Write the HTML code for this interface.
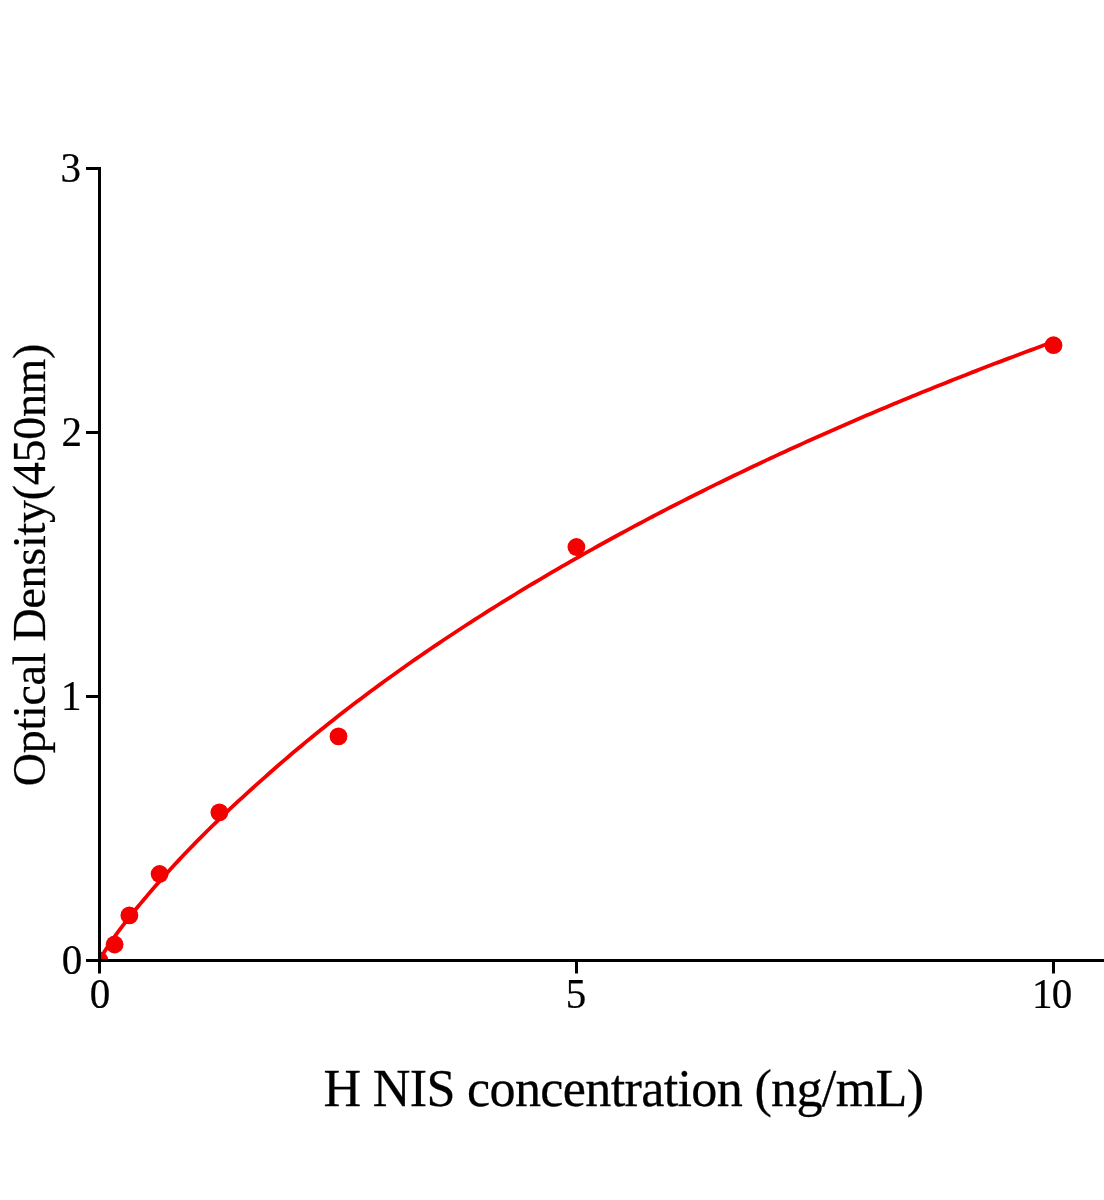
<!DOCTYPE html>
<html><head><meta charset="utf-8"><title>H NIS ELISA standard curve</title>
<style>
html,body{margin:0;padding:0;background:#fff;}
body{width:1104px;height:1200px;overflow:hidden;position:relative;font-family:"Liberation Serif",serif;}
svg{position:absolute;left:0;top:0;display:block;will-change:transform;}
text{font-family:"Liberation Serif",serif;fill:#000;stroke:#000;stroke-width:0.25px;}
</style></head><body>
<svg width="1104" height="1200" viewBox="0 0 1104 1200">
<rect width="1104" height="1200" fill="#fff"/>
<defs><clipPath id="plot"><rect x="99.5" y="0" width="1010" height="960.5"/></clipPath></defs>
<g clip-path="url(#plot)">
<path d="M99.50 960.90 L100.72 958.21 L101.95 955.96 L103.17 953.85 L104.39 951.82 L105.62 949.87 L106.84 947.96 L108.06 946.10 L109.28 944.27 L110.51 942.47 L111.73 940.70 L112.95 938.96 L114.18 937.24 L115.40 935.54 L116.62 933.86 L117.85 932.19 L119.07 930.55 L120.29 928.91 L121.52 927.29 L122.74 925.69 L123.96 924.09 L125.18 922.51 L126.41 920.94 L127.63 919.38 L128.85 917.84 L130.08 916.30 L131.30 914.78 L132.52 913.26 L133.75 911.75 L134.97 910.26 L136.19 908.77 L137.42 907.29 L138.64 905.82 L139.86 904.36 L141.08 902.90 L142.31 901.46 L143.53 900.02 L144.75 898.56 L145.98 897.10 L147.20 895.65 L151.75 890.30 L156.31 885.04 L160.86 879.87 L165.42 874.77 L169.97 869.74 L174.53 864.78 L179.08 859.89 L183.63 855.05 L188.19 850.28 L192.74 845.57 L197.30 840.90 L201.85 836.30 L206.41 831.76 L210.96 827.26 L215.51 822.82 L220.07 818.41 L224.62 814.06 L229.18 809.74 L233.73 805.47 L238.29 801.23 L242.84 797.04 L247.39 792.88 L251.95 788.76 L256.50 784.68 L261.06 780.62 L265.61 776.55 L270.17 772.52 L274.72 768.51 L279.27 764.55 L283.83 760.61 L288.38 756.70 L292.94 752.82 L297.49 748.98 L302.05 745.17 L306.60 741.41 L311.15 737.68 L315.71 733.98 L320.26 730.30 L324.82 726.66 L329.37 723.03 L333.93 719.44 L338.48 715.86 L343.03 712.32 L347.59 708.79 L352.14 705.30 L356.70 701.84 L361.25 698.39 L365.81 694.98 L370.36 691.58 L374.91 688.21 L379.47 684.86 L384.02 681.53 L388.58 678.22 L393.13 674.93 L397.68 671.67 L402.24 668.43 L406.79 665.22 L411.35 662.04 L415.90 658.87 L420.46 655.72 L425.01 652.60 L429.56 649.49 L434.12 646.40 L438.67 643.33 L443.23 640.27 L447.78 637.24 L452.34 634.22 L456.89 631.22 L461.44 628.24 L466.00 625.27 L470.55 622.33 L475.11 619.40 L479.66 616.48 L484.22 613.58 L488.77 610.70 L493.32 607.84 L497.88 604.99 L502.43 602.15 L506.99 599.34 L511.54 596.53 L516.10 593.75 L520.65 590.98 L525.20 588.22 L529.76 585.48 L534.31 582.75 L538.87 580.04 L543.42 577.34 L547.98 574.65 L552.53 571.98 L557.08 569.32 L561.64 566.68 L566.19 564.05 L570.75 561.44 L575.30 558.83 L579.86 556.25 L584.41 553.67 L588.96 551.11 L593.52 548.56 L598.07 546.02 L602.63 543.49 L607.18 540.98 L611.74 538.48 L616.29 535.99 L620.84 533.52 L625.40 531.06 L629.95 528.60 L634.51 526.17 L639.06 523.74 L643.62 521.32 L648.17 518.92 L652.72 516.52 L657.28 514.14 L661.83 511.77 L666.39 509.41 L670.94 507.06 L675.50 504.73 L680.05 502.40 L684.60 500.08 L689.16 497.78 L693.71 495.49 L698.27 493.20 L702.82 490.93 L707.38 488.66 L711.93 486.41 L716.48 484.17 L721.04 481.94 L725.59 479.71 L730.15 477.50 L734.70 475.30 L739.26 473.11 L743.81 470.92 L748.36 468.75 L752.92 466.58 L757.47 464.43 L762.03 462.28 L766.58 460.15 L771.14 458.02 L775.69 455.90 L780.24 453.79 L784.80 451.69 L789.35 449.60 L793.91 447.52 L798.46 445.45 L803.02 443.39 L807.57 441.33 L812.12 439.28 L816.68 437.24 L821.23 435.22 L825.79 433.19 L830.34 431.18 L834.89 429.18 L839.45 427.18 L844.00 425.19 L848.56 423.21 L853.11 421.24 L857.67 419.28 L862.22 417.32 L866.77 415.37 L871.33 413.43 L875.88 411.50 L880.44 409.58 L884.99 407.66 L889.55 405.75 L894.10 403.85 L898.65 401.96 L903.21 400.07 L907.76 398.19 L912.32 396.32 L916.87 394.45 L921.43 392.60 L925.98 390.75 L930.53 388.90 L935.09 387.07 L939.64 385.24 L944.20 383.42 L948.75 381.61 L953.31 379.80 L957.86 378.00 L962.41 376.20 L966.97 374.42 L971.52 372.64 L976.08 370.86 L980.63 369.10 L985.19 367.34 L989.74 365.58 L994.29 363.84 L998.85 362.10 L1003.40 360.36 L1007.96 358.64 L1012.51 356.92 L1017.07 355.20 L1021.62 353.49 L1026.17 351.79 L1030.73 350.10 L1035.28 348.41 L1039.84 346.72 L1044.39 345.05 L1048.95 343.37 L1053.50 341.71" fill="none" stroke="#f50000" stroke-width="3.8" stroke-linejoin="round" stroke-linecap="round"/>
<g fill="#f50000"><circle cx="99.5" cy="960.5" r="8.9"/><circle cx="114.6" cy="944.5" r="8.9"/><circle cx="129.4" cy="915.4" r="8.9"/><circle cx="159.6" cy="874.0" r="8.9"/><circle cx="219.4" cy="812.4" r="8.9"/><circle cx="338.5" cy="736.4" r="8.9"/><circle cx="576.4" cy="547.0" r="8.9"/><circle cx="1053.5" cy="345.2" r="8.9"/></g>
</g>
<g fill="#000">
<rect x="98" y="167" width="3" height="806.5"/>
<rect x="86" y="959" width="1018" height="3"/>
<rect x="86" y="167" width="13" height="3"/>
<rect x="86" y="431" width="13" height="3"/>
<rect x="86" y="695" width="13" height="3"/>
<rect x="575" y="961" width="3" height="12.5"/>
<rect x="1052" y="961" width="3" height="12.5"/>
</g>
<g font-size="42.5px" text-anchor="middle">
<text transform="translate(70.7 182.3) scale(0.965 1)">3</text>
<text transform="translate(71.8 446.3) scale(0.965 1)">2</text>
<text transform="translate(71.3 710.3) scale(0.965 1)">1</text>
<text transform="translate(71.95 974.3) scale(0.965 1)">0</text>
<text transform="translate(100.1 1007.6) scale(0.965 1)">0</text>
<text transform="translate(576.1 1007.6) scale(0.965 1)">5</text>
<text transform="translate(1032 1007.6) scale(0.965 1)" x="0 20.52" text-anchor="start">10</text>
</g>
<text transform="translate(323.4 1106) scale(0.975 1)" font-size="53.5px" letter-spacing="-0.7">H NIS concentration (ng/mL)</text>
<text transform="translate(45 786.3) rotate(-90)" font-size="46px" letter-spacing="-0.27">Optical Density(450nm)</text>
</svg>
</body></html>
